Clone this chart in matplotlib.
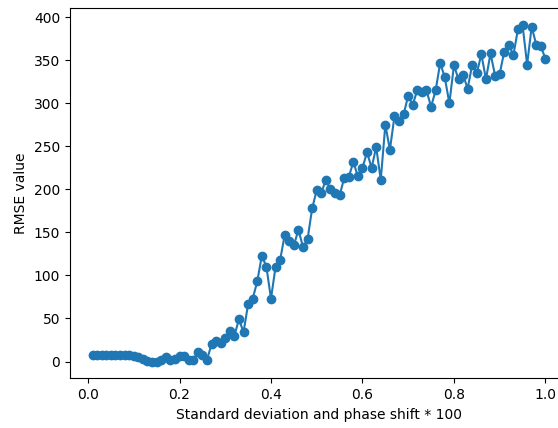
import numpy as np
import matplotlib
matplotlib.use("Agg")
import matplotlib.pyplot as plt

# standard deviation / phase shift values (0.01 .. 1.00)
shift = np.round(np.arange(1, 101) * 0.01, 2)

# RMSE
rmse = [8, 8, 8, 8, 8, 8, 8, 8, 8, 6,
        5, 3, 1, 0, 0, 2, 5, 2, 3, 6,
        6, 2, 2, 11, 8, 2, 20, 24, 22, 27,
        35, 30, 49, 34, 67, 73, 93, 123, 110, 73,
        110, 118, 147, 140, 135, 153, 133, 142, 178, 199,
        196, 211, 200, 196, 193, 213, 214, 232, 215, 225,
        243, 225, 249, 211, 275, 246, 285, 280, 287, 309,
        298, 316, 313, 315, 296, 315, 347, 330, 300, 344,
        328, 333, 317, 345, 335, 357, 328, 358, 332, 334,
        360, 368, 356, 386, 391, 345, 389, 368, 366, 352]

fig = plt.figure(figsize=(5.58, 4.28), dpi=100)
# axes run slightly past the right edge, as in the cropped original
plt.subplots_adjust(left=0.1254, right=1.018, top=0.981, bottom=0.116)
plt.plot(shift, rmse, marker='o')
plt.xlabel('Standard deviation and phase shift * 100')
plt.ylabel('RMSE value')
plt.savefig('out.png', dpi=100)
